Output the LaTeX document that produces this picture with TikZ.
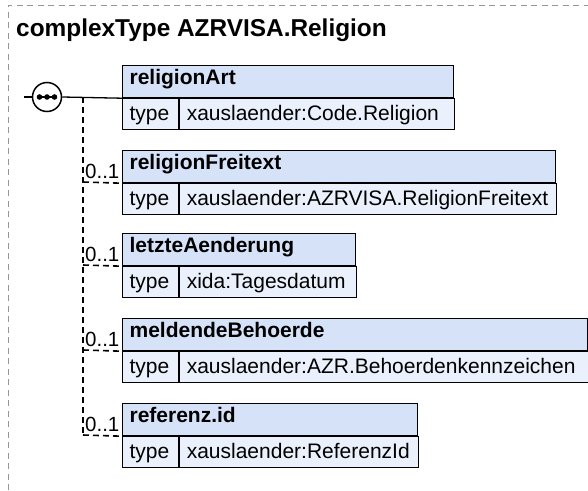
\documentclass[tikz,border=0pt]{standalone}
\usepackage{fontspec}
\setmainfont{Liberation Sans}
\definecolor{hdrblue}{RGB}{214,226,248}
\definecolor{rowblue}{RGB}{235,241,252}
\definecolor{framegray}{RGB}{150,150,150}
\begin{document}
\begin{tikzpicture}[x=1pt,y=-1pt,
  hdr/.style={draw=black, line width=1.2pt, fill=hdrblue, anchor=north west, inner xsep=7pt, inner ysep=0pt,
    minimum height=32pt, text height=15pt, text depth=9pt, align=left, font=\fontsize{21}{25}\selectfont\bfseries},
  tcell/.style={draw=black, line width=1.2pt, fill=rowblue, anchor=north west, inner xsep=7pt, inner ysep=0pt,
    minimum height=31pt, text height=15pt, text depth=2pt, align=left, font=\fontsize{21}{25}\selectfont},
  conn/.style={line width=1.6pt, dash pattern=on 6pt off 4pt},
  card/.style={anchor=base west, inner sep=0pt, font=\fontsize{20.5}{24}\selectfont},
  solidline/.style={line width=1.3pt}]
\useasboundingbox (0,0) rectangle (588,490);
% frame
\draw[framegray, line width=1pt, dash pattern=on 6pt off 4.5pt] (8,490) -- (8,5) -- (588,5);
\node[anchor=base west, inner sep=0pt, font=\fontsize{24.4}{29}\selectfont\bfseries] (title) at (16,36) {complexType AZRVISA.Religion};
% boxes
\node[hdr, text width=317pt] (b1h) at (122,65) {religionArt};
\node[tcell, text width=42pt] (b1t) at (b1h.south west) {type};
\node[tcell, text width=261pt] (b1v) at (b1t.north east) {xauslaender:Code.Religion};
\node[hdr, text width=419pt] (b2h) at (122,150) {religionFreitext};
\node[tcell, text width=42pt] (b2t) at (b2h.south west) {type};
\node[tcell, text width=363pt] (b2v) at (b2t.north east) {xauslaender:AZRVISA.ReligionFreitext};
\node[hdr, text width=219pt] (b3h) at (122,233) {letzteAenderung};
\node[tcell, text width=42pt] (b3t) at (b3h.south west) {type};
\node[tcell, text width=163pt] (b3v) at (b3t.north east) {xida:Tagesdatum};
\node[hdr, text width=451pt] (b4h) at (122,318) {meldendeBehoerde};
\node[tcell, text width=42pt] (b4t) at (b4h.south west) {type};
\node[tcell, text width=395pt] (b4v) at (b4t.north east) {xauslaender:AZR.Behoerdenkennzeichen};
\node[hdr, text width=281pt] (b5h) at (122,403) {referenz.id};
\node[tcell, text width=42pt] (b5t) at (b5h.south west) {type};
\node[tcell, text width=225pt] (b5v) at (b5t.north east) {xauslaender:ReferenzId};
% sequence compositor
\coordinate (in) at (24,97);
\node[draw=black, circle, line width=1.5pt, minimum size=29pt, inner sep=0pt, fill=white] (seq) at (47,97) {};
\draw[solidline] (38,97) -- (56,97);
\fill (39.5,97) circle (2.8pt) (47,97) circle (2.8pt) (54.5,97) circle (2.8pt);
\draw[solidline] (in) -- (seq.west);
\draw[solidline] (seq.east) -- (b1h.south west);
% trunk
\coordinate (tj1) at (83,97);
\coordinate (tj2) at (83,182);
\coordinate (tj3) at (83,265);
\coordinate (tj4) at (83,350);
\coordinate (tj5) at (83,435);
\draw[conn] (tj1) -- (tj5);
\draw[conn] (tj2) -- (b2h.south west);
\draw[conn] (tj3) -- (b3h.south west);
\draw[conn] (tj4) -- (b4h.south west);
\draw[conn] (tj5) -- (b5h.south west);
\node[card] (c2) at (85,178) {0..1};
\node[card] (c3) at (85,261) {0..1};
\node[card] (c4) at (85,346) {0..1};
\node[card] (c5) at (85,431) {0..1};
\end{tikzpicture}
\end{document}
